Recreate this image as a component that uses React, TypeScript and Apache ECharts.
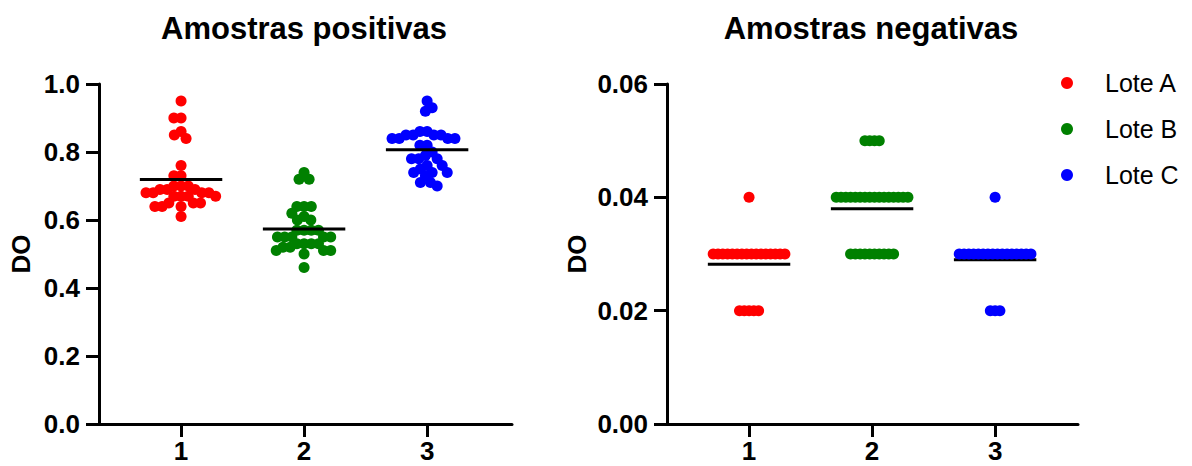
import React, { useEffect, useRef } from "react";
import * as echarts from "echarts";

// Column labels and batches
const categories = ["1", "2", "3"];
const lotes = ["Lote A", "Lote B", "Lote C"];
const loteColors = ["#ff0000", "#008000", "#0000ff"];

// Positive samples (DO)
const posLoteA = [
  0.95, 0.9, 0.9, 0.86, 0.85, 0.84, 0.76, 0.73, 0.73, 0.7, 0.7, 0.7, 0.69, 0.69, 0.69,
  0.68, 0.68, 0.68, 0.68, 0.67, 0.67, 0.67, 0.67, 0.65, 0.65, 0.65, 0.64, 0.64, 0.64, 0.61,
];
const posLoteB = [
  0.74, 0.72, 0.72, 0.64, 0.64, 0.64, 0.62, 0.61, 0.6, 0.6, 0.57, 0.57, 0.57, 0.57, 0.55,
  0.55, 0.55, 0.55, 0.55, 0.53, 0.53, 0.53, 0.53, 0.52, 0.52, 0.51, 0.51, 0.51, 0.5, 0.46,
];
const posLoteC = [
  0.95, 0.93, 0.92, 0.86, 0.86, 0.85, 0.85, 0.85, 0.85, 0.84, 0.84, 0.84, 0.84, 0.82, 0.82,
  0.8, 0.79, 0.78, 0.78, 0.78, 0.76, 0.76, 0.75, 0.74, 0.74, 0.74, 0.73, 0.71, 0.71, 0.7,
];

// Negative samples (DO)
const negLoteA = [
  0.04, 0.03, 0.03, 0.03, 0.03, 0.03, 0.03, 0.03, 0.03, 0.03, 0.03, 0.03, 0.03, 0.03, 0.03,
  0.03, 0.03, 0.02, 0.02, 0.02, 0.02, 0.02,
];
const negLoteB = [
  0.05, 0.05, 0.05, 0.05, 0.04, 0.04, 0.04, 0.04, 0.04, 0.04, 0.04, 0.04, 0.04, 0.04, 0.04,
  0.04, 0.04, 0.04, 0.04, 0.04, 0.03, 0.03, 0.03, 0.03, 0.03, 0.03, 0.03, 0.03, 0.03, 0.03,
];
const negLoteC = [
  0.04, 0.03, 0.03, 0.03, 0.03, 0.03, 0.03, 0.03, 0.03, 0.03, 0.03, 0.03, 0.03, 0.03, 0.03,
  0.03, 0.03, 0.02, 0.02, 0.02,
];

const positiveTicks = [0, 0.2, 0.4, 0.6, 0.8, 1.0];
const negativeTicks = [0, 0.02, 0.04, 0.06];

const FONT = "'Liberation Sans', Arial, Helvetica, sans-serif";
const X_MIN = 0.333;
const X_MAX = 3.69;
const GRID_W = 413;
const GRID_H = 340;
const MEAN_HALF = 0.335;
const DOT = 11;

const mean = (v: number[]) => v.reduce((s, x) => s + x, 0) / v.length;

// Beeswarm placement with an elliptical keep-out zone (sx wide, sy tall, in px):
// each point goes to the free spot closest to the column centre.
function swarmOffsets(
  values: number[],
  pxPerY: number,
  pxPerX: number,
  sx: number,
  sy: number
): number[] {
  const order = values.map((_, i) => i).sort((a, b) => values[b] - values[a]);
  const placed: { x: number; y: number }[] = [];
  const out: number[] = new Array(values.length).fill(0);
  let flip = 1;
  const clash = (x: number, y: number) =>
    placed.some((p) => ((p.x - x) / sx) ** 2 + ((p.y - y) / sy) ** 2 < 1 - 1e-6);
  for (const i of order) {
    const y = values[i] * pxPerY;
    const cands = [0];
    for (const p of placed) {
      const dy = Math.abs(p.y - y) / sy;
      if (dy < 1) {
        const dx = sx * Math.sqrt(1 - dy * dy);
        cands.push(p.x + dx, p.x - dx);
      }
    }
    cands.sort((a, b) => Math.abs(a) - Math.abs(b) || flip * (a - b));
    let x = 0;
    for (const c of cands) {
      if (!clash(c, y)) {
        x = c;
        break;
      }
    }
    flip = -flip;
    placed.push({ x, y });
    out[i] = x / pxPerX;
  }
  return out;
}

// Identical readings sit side by side in a centred row.
function rowOffsets(values: number[], spacingPx: number, pxPerX: number): number[] {
  const counts = new Map<number, number>();
  values.forEach((v) => counts.set(v, (counts.get(v) || 0) + 1));
  const seen = new Map<number, number>();
  return values.map((v) => {
    const n = counts.get(v) as number;
    const k = seen.get(v) || 0;
    seen.set(v, k + 1);
    return ((k - (n - 1) / 2) * spacingPx) / pxPerX;
  });
}

export default function App() {
  const ref = useRef<HTMLDivElement>(null);

  useEffect(() => {
    if (!ref.current) return;
    const chart = echarts.init(ref.current, undefined, { renderer: "svg" });

    const pxPerX = GRID_W / (X_MAX - X_MIN);
    const panels = [
      { groups: [posLoteA, posLoteB, posLoteC], max: 1.0, ticks: positiveTicks, digits: 1 },
      { groups: [negLoteA, negLoteB, negLoteC], max: 0.06, ticks: negativeTicks, digits: 2 },
    ];

    const series: any[] = [];
    panels.forEach((panel, p) => {
      const pxPerY = GRID_H / panel.max;
      panel.groups.forEach((vals, g) => {
        const offs =
          p === 0
            ? swarmOffsets(vals, pxPerY, pxPerX, 7.2, 9.5)
            : rowOffsets(vals, 4.78, pxPerX);
        series.push({
          type: "scatter",
          name: lotes[g],
          xAxisIndex: p,
          yAxisIndex: p,
          symbol: "circle",
          symbolSize: DOT,
          itemStyle: { color: loteColors[g], opacity: 1 },
          silent: true,
          z: 2,
          data: vals.map((v, i) => [g + 1 + offs[i], v]),
        });
        const m = mean(vals);
        series.push({
          type: "line",
          name: `media-${p}-${g}`,
          xAxisIndex: p,
          yAxisIndex: p,
          symbol: "none",
          silent: true,
          z: p === 0 ? 3 : 1,
          lineStyle: { color: "#000", width: 3, cap: "butt" },
          data: [
            [g + 1 - MEAN_HALF, m],
            [g + 1 + MEAN_HALF, m],
          ],
        });
      });
    });

    const axisLine = { show: true, onZero: false, lineStyle: { color: "#000", width: 3 } };
    const axisTick = { show: true, length: 13, lineStyle: { color: "#000", width: 3 } };
    const labelStyle = { color: "#000", fontSize: 26, fontWeight: "bold", fontFamily: FONT };

    chart.setOption({
      animation: false,
      backgroundColor: "#fff",
      textStyle: { fontFamily: FONT },
      graphic: [
        {
          type: "text",
          x: 304,
          y: 28,
          silent: true,
          style: {
            text: "Amostras positivas",
            fill: "#000",
            font: `bold 31px ${FONT}`,
            align: "center",
            verticalAlign: "middle",
          },
        },
        {
          type: "text",
          x: 871,
          y: 28,
          silent: true,
          style: {
            text: "Amostras negativas",
            fill: "#000",
            font: `bold 31px ${FONT}`,
            align: "center",
            verticalAlign: "middle",
          },
        },
      ],
      legend: {
        data: lotes.map((name) => ({ name, icon: "circle" })),
        orient: "vertical",
        left: 1061,
        top: 68,
        padding: 0,
        itemWidth: 12,
        itemHeight: 12,
        itemGap: 16,
        selectedMode: false,
        textStyle: {
          color: "#000",
          fontSize: 25,
          lineHeight: 30,
          fontFamily: FONT,
          padding: [0, 0, 0, 27],
        },
      },
      grid: [
        { left: 99, top: 84, width: GRID_W, height: GRID_H, containLabel: false },
        { left: 667, top: 84, width: 411, height: GRID_H, containLabel: false },
      ],
      xAxis: panels.map((_, p) => ({
        type: "value",
        gridIndex: p,
        min: X_MIN,
        max: p === 0 ? X_MAX : X_MIN + (411 / GRID_W) * (X_MAX - X_MIN),
        axisLine,
        axisTick: { ...axisTick, customValues: [1, 2, 3] },
        axisLabel: {
          ...labelStyle,
          lineHeight: 24,
          margin: 15,
          customValues: [1, 2, 3],
          formatter: (v: number) => categories[Math.round(v) - 1] ?? "",
        },
        splitLine: { show: false },
      })),
      yAxis: panels.map((panel, p) => ({
        type: "value",
        gridIndex: p,
        min: 0,
        max: panel.max,
        axisLine,
        axisTick: { ...axisTick, customValues: panel.ticks },
        axisLabel: {
          ...labelStyle,
          margin: 19,
          customValues: panel.ticks,
          formatter: (v: number) => v.toFixed(panel.digits),
        },
        splitLine: { show: false },
        name: "DO",
        nameLocation: "middle",
        nameRotate: 90,
        nameGap: p === 0 ? 65 : 77,
        nameTextStyle: { ...labelStyle },
      })),
      series,
    });

    return () => chart.dispose();
  }, []);

  return (
    <div
      ref={ref}
      style={{ position: "absolute", left: 0, top: 0, width: 1192, height: 466 }}
    />
  );
}
